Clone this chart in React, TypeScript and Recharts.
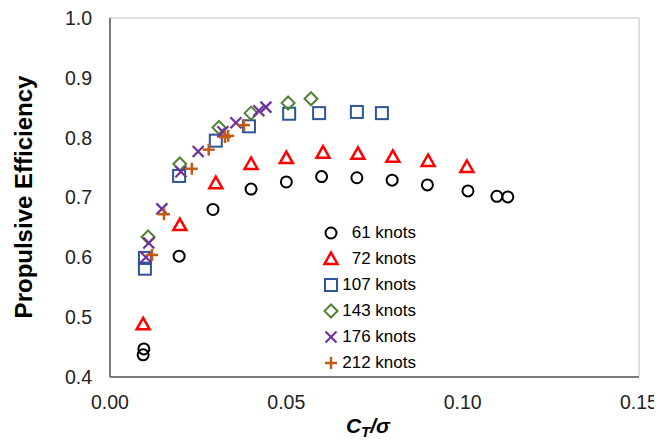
import React from "react";
import { ScatterChart, Scatter, XAxis, YAxis, CartesianGrid } from "recharts";

const seriesNames = ["61 knots", "72 knots", "107 knots", "143 knots", "176 knots", "212 knots"];

const knots61 = [
  { x: 0.0096, y: 0.447 }, { x: 0.0094, y: 0.437 }, { x: 0.0196, y: 0.602 }, { x: 0.0292, y: 0.680 },
  { x: 0.040, y: 0.714 }, { x: 0.050, y: 0.726 }, { x: 0.060, y: 0.735 }, { x: 0.070, y: 0.733 },
  { x: 0.080, y: 0.729 }, { x: 0.090, y: 0.721 }, { x: 0.1015, y: 0.711 }, { x: 0.1097, y: 0.702 },
  { x: 0.1128, y: 0.701 },
];
const knots72 = [
  { x: 0.0094, y: 0.488 }, { x: 0.0198, y: 0.654 }, { x: 0.030, y: 0.724 }, { x: 0.040, y: 0.756 },
  { x: 0.050, y: 0.766 }, { x: 0.0604, y: 0.775 }, { x: 0.0703, y: 0.773 }, { x: 0.0802, y: 0.768 },
  { x: 0.0902, y: 0.761 }, { x: 0.1012, y: 0.751 },
];
const knots107 = [
  { x: 0.0099, y: 0.581 }, { x: 0.0099, y: 0.599 }, { x: 0.0196, y: 0.736 }, { x: 0.030, y: 0.795 },
  { x: 0.0394, y: 0.819 }, { x: 0.0508, y: 0.840 }, { x: 0.0593, y: 0.841 }, { x: 0.070, y: 0.843 },
  { x: 0.0771, y: 0.841 },
];
const knots143 = [
  { x: 0.0108, y: 0.634 }, { x: 0.0198, y: 0.756 }, { x: 0.0309, y: 0.817 }, { x: 0.040, y: 0.841 },
  { x: 0.0505, y: 0.858 }, { x: 0.057, y: 0.865 },
];
const knots176 = [
  { x: 0.0102, y: 0.600 }, { x: 0.011, y: 0.624 }, { x: 0.0147, y: 0.681 }, { x: 0.0201, y: 0.743 },
  { x: 0.025, y: 0.777 }, { x: 0.032, y: 0.810 }, { x: 0.0357, y: 0.825 }, { x: 0.0422, y: 0.845 },
  { x: 0.0442, y: 0.851 },
];
const knots212 = [
  { x: 0.0119, y: 0.604 }, { x: 0.0153, y: 0.672 }, { x: 0.0232, y: 0.748 }, { x: 0.028, y: 0.780 },
  { x: 0.0326, y: 0.801 }, { x: 0.0335, y: 0.803 }, { x: 0.038, y: 0.821 },
];

const xTicks = [0, 0.05, 0.1, 0.15];
const yTicks = [0.4, 0.5, 0.6, 0.7, 0.8, 0.9, 1.0];

const COLORS = ["#000000", "#FF0000", "#2F5597", "#548235", "#7030A0", "#C55A11"];
const FONT = "'Liberation Sans', Arial, sans-serif";

type MP = { cx: number; cy: number };

const Circle = ({ cx, cy }: MP) => <circle cx={cx} cy={cy} r={5.5} fill="none" stroke={COLORS[0]} strokeWidth={2} />;
const Triangle = ({ cx, cy }: MP) => (
  <polygon points={`${cx},${cy - 6.5} ${cx - 6.5},${cy + 5} ${cx + 6.5},${cy + 5}`} fill="none" stroke={COLORS[1]} strokeWidth={2.5} />
);
const Square = ({ cx, cy }: MP) => (
  <rect x={cx - 6} y={cy - 6} width={12} height={12} fill="none" stroke={COLORS[2]} strokeWidth={2} />
);
const Diamond = ({ cx, cy }: MP) => (
  <polygon points={`${cx},${cy - 6.5} ${cx + 6.5},${cy} ${cx},${cy + 6.5} ${cx - 6.5},${cy}`} fill="none" stroke={COLORS[3]} strokeWidth={2} />
);
const Cross = ({ cx, cy }: MP) => (
  <g stroke={COLORS[4]} strokeWidth={2.2}>
    <line x1={cx - 5.5} y1={cy - 5.5} x2={cx + 5.5} y2={cy + 5.5} />
    <line x1={cx - 5.5} y1={cy + 5.5} x2={cx + 5.5} y2={cy - 5.5} />
  </g>
);
const Plus = ({ cx, cy }: MP) => (
  <g stroke={COLORS[5]} strokeWidth={2.5}>
    <line x1={cx - 6} y1={cy} x2={cx + 6} y2={cy} />
    <line x1={cx} y1={cy - 6} x2={cx} y2={cy + 6} />
  </g>
);

const SHAPES = [Circle, Triangle, Square, Diamond, Cross, Plus];
const DATA = [knots61, knots72, knots107, knots143, knots176, knots212];

const LegendBox = () => (
  <div style={{ position: "absolute", left: 322, top: 220, width: 94, fontFamily: FONT, fontSize: 17, color: "#000" }}>
    {seriesNames.map((n, i) => {
      const S = SHAPES[i];
      return (
        <div key={n} style={{ display: "flex", alignItems: "center", height: 26 }}>
          <svg width={18} height={18} style={{ display: "block" }}>
            <S cx={9} cy={9} />
          </svg>
          <span style={{ flex: 1, textAlign: "right" }}>{n}</span>
        </div>
      );
    })}
  </div>
);

const YLabel = () => (
  <text x={23} y={197} transform="rotate(-90 23 197)" textAnchor="middle" dominantBaseline="central"
    style={{ fontFamily: FONT, fontSize: 24, fontWeight: "bold", fill: "#000" }}>
    Propulsive Efficiency
  </text>
);

const XLabel = () => (
  <text x={368} y={433} textAnchor="middle"
    style={{ fontFamily: FONT, fontSize: 21, fontWeight: "bold", fontStyle: "italic", fill: "#000" }}>
    C<tspan fontSize={15} dy={4}>T</tspan><tspan dy={-4}>/σ</tspan>
  </text>
);

export default function App() {
  return (
    <div style={{ margin: "-8px 0 0 -8px", width: 662, height: 440, position: "relative", overflow: "hidden" }}>
      <ScatterChart width={662} height={440} margin={{ top: 18, right: 23, left: 0, bottom: 0 }}>
        <CartesianGrid stroke="#BFBFBF" strokeWidth={1} />
        <XAxis xAxisId="b" type="number" dataKey="x" domain={[0, 0.15]} ticks={xTicks} height={63}
          tickFormatter={(v: number) => v.toFixed(2)} tickSize={0} tickMargin={18}
          axisLine={{ stroke: "#595959", strokeWidth: 1.5 }} tickLine={false}
          tick={{ fontFamily: FONT, fontSize: 19.5, fill: "#222" }} label={<XLabel />} />
        <XAxis xAxisId="t" orientation="top" type="number" dataKey="x" domain={[0, 0.15]} ticks={xTicks} height={0}
          tick={false} tickLine={false} axisLine={{ stroke: "#595959", strokeWidth: 1.5 }} />
        <YAxis yAxisId="l" type="number" dataKey="y" domain={[0.4, 1.0]} ticks={yTicks} width={110}
          tickFormatter={(v: number) => v.toFixed(1)} tickSize={0} tickMargin={18}
          axisLine={{ stroke: "#595959", strokeWidth: 1.5 }} tickLine={false}
          tick={{ fontFamily: FONT, fontSize: 19.5, fill: "#222" }} label={<YLabel />} />
        <YAxis yAxisId="r" orientation="right" type="number" dataKey="y" domain={[0.4, 1.0]} ticks={yTicks} width={0}
          tick={false} tickLine={false} axisLine={{ stroke: "#595959", strokeWidth: 1.5 }} />
        {DATA.map((d, i) => {
          const S = SHAPES[i];
          return (
            <Scatter key={seriesNames[i]} name={seriesNames[i]} data={d} xAxisId="b" yAxisId="l"
              isAnimationActive={false} shape={(p: any) => <S cx={p.cx} cy={p.cy} />} />
          );
        })}
      </ScatterChart>
      <LegendBox />
    </div>
  );
}
